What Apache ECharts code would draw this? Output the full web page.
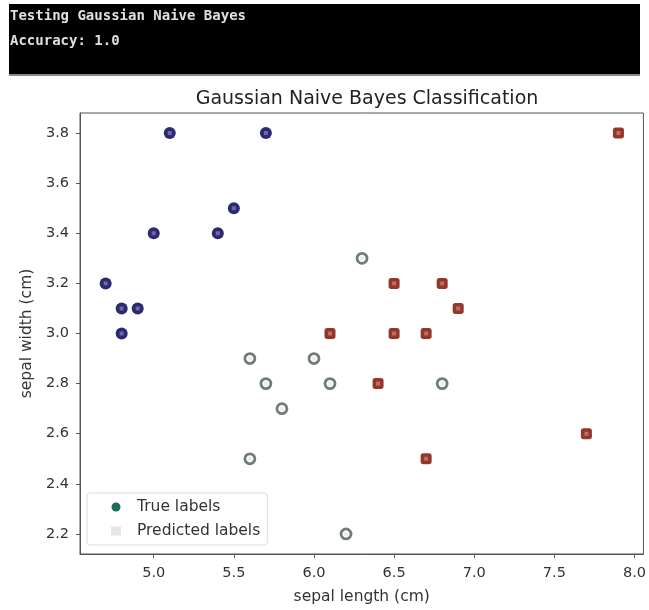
<!DOCTYPE html>
<html><head><meta charset="utf-8">
<script src="https://cdn.jsdelivr.net/npm/echarts@6/dist/echarts.min.js"></script>
<style>html,body{margin:0;padding:0;background:#fff}#c{width:649px;height:610px}</style>
</head><body><div id="c"></div>
<script>
// Test-set points (sepal length, sepal width) with true and predicted class
const sepalLength = [5.1,5.7,5.5,5.0,5.4,4.7,4.8,4.9,4.8, 6.3,5.6,6.0,5.7,6.1,6.8,5.8,5.6,6.2, 7.9,6.5,6.8,6.9,6.1,6.5,6.7,6.4,7.7,6.7];
const sepalWidth  = [3.8,3.8,3.5,3.4,3.4,3.2,3.1,3.1,3.0, 3.3,2.9,2.9,2.8,2.8,2.8,2.7,2.5,2.2, 3.8,3.2,3.2,3.1,3.0,3.0,3.0,2.8,2.6,2.5];
const trueLabel   = [0,0,0,0,0,0,0,0,0, 1,1,1,1,1,1,1,1,1, 2,2,2,2,2,2,2,2,2,2];
const predLabel   = [0,0,0,0,0,0,0,0,0, 1,1,1,1,1,1,1,1,1, 2,2,2,2,2,2,2,2,2,2];
const xTicks = [5.0,5.5,6.0,6.5,7.0,7.5,8.0];
const yTicks = [2.2,2.4,2.6,2.8,3.0,3.2,3.4,3.6,3.8];
const consoleLines = ['Testing Gaussian Naive Bayes', 'Accuracy: 1.0'];

const classColor = ['#2b2973', '#ffffff', '#973528'];
const classBorder = ['#2b2973', '#6f7d7a', '#973528'];
const classSymbol = ['circle', 'circle', 'roundRect'];
const classSize = [12, 10, 11];

const trueData = sepalLength.map((x,i)=>({
  value:[x, sepalWidth[i]],
  symbol: classSymbol[trueLabel[i]],
  symbolSize: classSize[trueLabel[i]],
  itemStyle:{opacity:1, color:classColor[trueLabel[i]], borderColor:classBorder[trueLabel[i]], borderWidth: trueLabel[i]===1 ? 2.8 : 0}
}));
const predData = sepalLength.map((x,i)=>({value:[x, sepalWidth[i]], cls:predLabel[i]}));

const chart = echarts.init(document.getElementById('c'), null, {renderer:'canvas'});
const fmt = v => v.toFixed(1);
const FONT = 'DejaVu Sans';
chart.setOption({
  animation:false,
  backgroundColor:'#fff',
  title:{text:'Gaussian Naive Bayes Classification', left:362, textAlign:'center', top:85,
    textStyle:{fontFamily:FONT, fontSize:19, fontWeight:'normal', color:'#222'}},
  grid:{left:80, top:113, right:3, bottom:54, show:true, borderColor:'#555', borderWidth:1},
  legend:{left:87, top:493, orient:'vertical', itemGap:6, itemWidth:10, itemHeight:9,
    padding:[5,7,5,24], borderColor:'#dddddd', borderWidth:1, borderRadius:3, backgroundColor:'rgba(255,255,255,0.8)',
    textStyle:{fontFamily:FONT, fontSize:15.5, color:'#333', lineHeight:18, padding:[0,0,0,11]},
    data:[{name:'True labels', icon:'circle', itemStyle:{color:'#1d6b59', borderWidth:0, opacity:1}},
          {name:'Predicted labels', icon:'rect', itemStyle:{color:'#e6e6e6', borderWidth:0, opacity:1}}]},
  xAxis:{type:'value', min:4.54, max:8.056, name:'sepal length (cm)', nameLocation:'middle', nameGap:35,
    nameTextStyle:{fontFamily:FONT, fontSize:15.5, color:'#333'},
    splitLine:{show:false},
    axisLine:{show:true, onZero:false, lineStyle:{color:'#555'}},
    axisTick:{show:true, length:4, customValues:xTicks, lineStyle:{color:'#555'}},
    axisLabel:{customValues:xTicks, formatter:fmt, fontFamily:FONT, fontSize:14.5, color:'#333', margin:12}},
  yAxis:{type:'value', min:2.12, max:3.88, name:'sepal width (cm)', nameLocation:'middle', nameGap:43,
    nameTextStyle:{fontFamily:FONT, fontSize:15.5, color:'#333'},
    splitLine:{show:false},
    axisLine:{show:true, onZero:false, lineStyle:{color:'#555'}},
    axisTick:{show:true, length:4, customValues:yTicks, lineStyle:{color:'#555'}},
    axisLabel:{customValues:yTicks, formatter:fmt, fontFamily:FONT, fontSize:14.5, color:'#333', margin:11}},
  graphic:[
    {type:'rect', left:9, top:4, shape:{width:631, height:70}, style:{fill:'#000'}},
    {type:'rect', left:9, top:74, shape:{width:631, height:2}, style:{fill:'#8a8a8a'}},
    {type:'text', left:10, top:9, style:{text:consoleLines[0], fill:'#e0e0e0', font:'bold 14px "DejaVu Sans Mono"'}},
    {type:'text', left:10, top:34, style:{text:consoleLines[1], fill:'#e0e0e0', font:'bold 14px "DejaVu Sans Mono"'}}
  ],
  series:[
    {name:'True labels', type:'scatter', data:trueData, z:2},
    {name:'Predicted labels', type:'scatter', data:predData, symbol:'rect', symbolSize:4,
      itemStyle:{color:'rgba(210,210,210,0.4)', opacity:1}, z:3}
  ]
});
</script></body></html>
